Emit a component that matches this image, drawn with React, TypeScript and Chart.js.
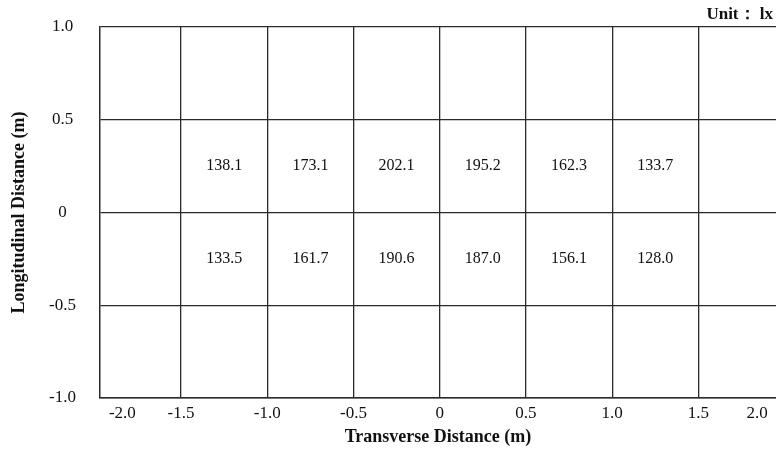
import React, { useEffect, useRef } from "react";
import { Chart, registerables } from "chart.js";

Chart.register(...registerables);

// ---- data ----
const columnCenters = [-1.25, -0.75, -0.25, 0.25, 0.75, 1.25];
const upperRowY = 0.25;
const lowerRowY = -0.25;
const upperRowValues = [138.1, 173.1, 202.1, 195.2, 162.3, 133.7];
const lowerRowValues = [133.5, 161.7, 190.6, 187.0, 156.1, 128.0];
const xTickValues = [-1.84, -1.5, -1.0, -0.5, 0, 0.5, 1.0, 1.5, 1.84];
const xTickLabels = ["-2.0", "-1.5", "-1.0", "-0.5", "0", "0.5", "1.0", "1.5", "2.0"];
const xGridValues = [-1.5, -1.0, -0.5, 0, 0.5, 1.0, 1.5];
const yTickValues = [-1, -0.5, 0, 0.5, 1];
const yTickLabels = ["-1.0", "-0.5", "0", "0.5", "1.0"];
const unitText = "Unit\uFF1A lx";

const SERIF = "'Liberation Serif', 'Times New Roman', serif";
const LINE = "#2a2a2a";

const valueLabels = {
  id: "valueLabels",
  afterDatasetsDraw(chart: any) {
    const ctx = chart.ctx;
    ctx.save();
    ctx.font = `16px ${SERIF}`;
    ctx.fillStyle = "#111";
    ctx.textAlign = "center";
    ctx.textBaseline = "middle";
    chart.data.datasets.forEach((ds: any, i: number) => {
      const meta = chart.getDatasetMeta(i);
      meta.data.forEach((pt: any, j: number) => {
        ctx.fillText(Number(ds.data[j].v).toFixed(1), pt.x, pt.y);
      });
    });
    ctx.restore();
  },
};

const unitLabel = {
  id: "unitLabel",
  afterDraw(chart: any) {
    const ctx = chart.ctx;
    ctx.save();
    ctx.font = `bold 17px ${SERIF}`;
    ctx.fillStyle = "#111";
    ctx.textAlign = "right";
    ctx.textBaseline = "middle";
    ctx.fillText(unitText, 773, 15);
    ctx.restore();
  },
};

export default function App() {
  const ref = useRef<HTMLCanvasElement | null>(null);
  useEffect(() => {
    if (!ref.current) return;
    const chart = new Chart(ref.current, {
      type: "scatter",
      data: {
        datasets: [
          {
            data: columnCenters.map((x, i) => ({ x, y: upperRowY, v: upperRowValues[i] })),
            pointRadius: 0,
          },
          {
            data: columnCenters.map((x, i) => ({ x, y: lowerRowY, v: lowerRowValues[i] })),
            pointRadius: 0,
          },
        ] as any,
      },
      options: {
        animation: false,
        responsive: true,
        maintainAspectRatio: false,
        layout: { padding: { top: 27, right: 0, left: 0, bottom: 0 } },
        plugins: { legend: { display: false }, tooltip: { enabled: false } },
        scales: {
          x: {
            type: "linear",
            min: -1.97,
            max: 1.95,
            afterBuildTicks: (s: any) => {
              s.ticks = xTickValues.map((v) => ({ value: v }));
            },
            afterFit: (s: any) => {
              s.height = 74;
              s.paddingLeft = 0;
              s.paddingRight = 0;
            },
            ticks: {
              autoSkip: false,
              maxRotation: 0,
              padding: 5,
              color: "#111",
              font: { family: SERIF, size: 17 },
              callback: (_v: any, i: number) => xTickLabels[i],
            },
            grid: {
              drawTicks: false,
              lineWidth: 1.3,
              color: (c: any) =>
                c.tick && xGridValues.includes(c.tick.value) ? LINE : "rgba(0,0,0,0)",
            },
            border: { display: true, color: LINE, width: 1.5 },
            title: {
              display: true,
              text: "Transverse Distance (m)",
              color: "#111",
              font: { family: SERIF, size: 18, weight: "bold" },
              padding: { top: 0, bottom: 24 },
            },
          },
          y: {
            type: "linear",
            min: -1,
            max: 1,
            afterBuildTicks: (s: any) => {
              s.ticks = yTickValues.map((v) => ({ value: v }));
            },
            afterFit: (s: any) => {
              s.width = 100;
              s.paddingTop = 0;
              s.paddingBottom = 0;
            },
            ticks: {
              crossAlign: "center",
              padding: 24,
              color: "#111",
              font: { family: SERIF, size: 17 },
              callback: (_v: any, i: number) => yTickLabels[i],
            },
            grid: {
              drawTicks: false,
              lineWidth: 1.3,
              color: LINE,
            },
            border: { display: true, color: LINE, width: 1.5 },
            title: {
              display: true,
              text: "Longitudinal Distance (m)",
              color: "#111",
              font: { family: SERIF, size: 18, weight: "bold" },
              padding: { top: 9, bottom: 0 },
            },
          },
        },
      },
      plugins: [valueLabels, unitLabel],
    });
    return () => chart.destroy();
  }, []);
  return (
    <div style={{ position: "fixed", left: 0, top: 0, width: 776, height: 472, background: "#fff" }}>
      <canvas ref={ref} />
    </div>
  );
}
